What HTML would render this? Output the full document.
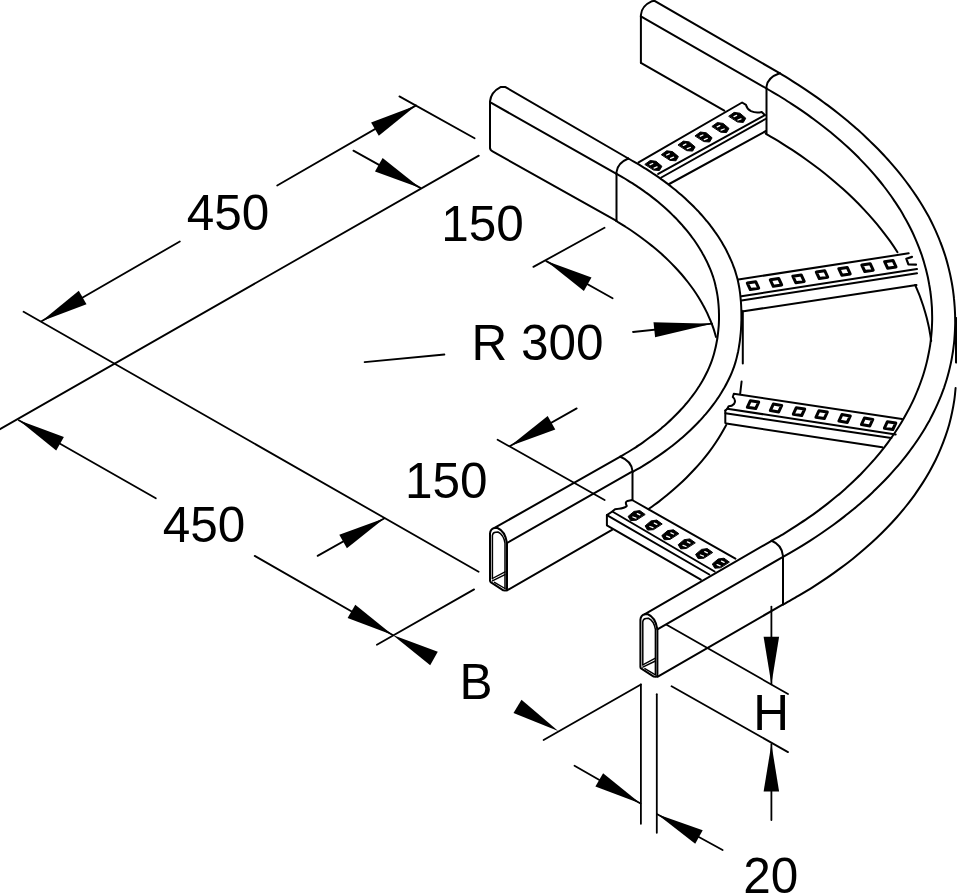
<!DOCTYPE html>
<html><head><meta charset="utf-8"><title>Cable ladder bend</title>
<style>
html,body{margin:0;padding:0;background:#fff;}
body{width:957px;height:895px;overflow:hidden;}
svg{display:block;font-family:"Liberation Sans",sans-serif;}
</style></head><body>
<svg width="957" height="895" viewBox="0 0 957 895" fill="none" stroke="#000" stroke-width="2.0" stroke-linecap="round" stroke-linejoin="round">
<rect x="0" y="0" width="957" height="895" fill="#fff" stroke="none"/>
<path d="M399.4 96.4 L474.6 138.2" stroke-width="1.8"/>
<path d="M416.1 105.4 L277.2 185.5" stroke-width="1.8"/>
<path d="M179.8 241.5 L41.5 321.3" stroke-width="1.8"/>
<polygon points="416.1,105.4 378.8,135.8 371.1,122.4" fill="#000" stroke="none"/>
<polygon points="41.5,321.3 78.8,290.8 86.5,304.3" fill="#000" stroke="none"/>
<path d="M23.6 311.8 L478.6 571.7" stroke-width="1.8"/>
<path d="M-1 429.7 L478.8 155.6" stroke-width="1.8"/>
<path d="M353.4 150.6 L420.3 187.9" stroke-width="1.8"/>
<polygon points="420.3,187.9 375,171.5 382.6,158" fill="#000" stroke="none"/>
<path d="M533.4 266.9 L604.5 227.8" stroke-width="1.8"/>
<path d="M546.3 261.1 L612.6 298.3" stroke-width="1.8"/>
<polygon points="546.3,261.1 591.5,277.6 583.9,291.1" fill="#000" stroke="none"/>
<path d="M364.6 362.1 L444.4 354.5" stroke-width="1.8"/>
<path d="M633 332 L712 323.7" stroke-width="1.8"/>
<polygon points="712,323.7 655.1,337.2 653.5,322.3" fill="#000" stroke="none"/>
<path d="M497.6 439.7 L604.6 500" stroke-width="1.8"/>
<path d="M576.7 408.4 L510.1 446" stroke-width="1.8"/>
<polygon points="510.1,446 547.7,415.9 555.3,429.4" fill="#000" stroke="none"/>
<path d="M317.6 555.9 L384.5 518.3" stroke-width="1.8"/>
<polygon points="384.5,518.3 346.9,548.3 339.3,534.8" fill="#000" stroke="none"/>
<path d="M18.8 420.2 L155.8 498.3" stroke-width="1.8"/>
<path d="M254.7 555.9 L392.7 635" stroke-width="1.8"/>
<polygon points="18.8,420.2 63.9,437 56.2,450.5" fill="#000" stroke="none"/>
<polygon points="392.7,635 347.6,618.1 355.3,604.7" fill="#000" stroke="none"/>
<polygon points="392.7,635 437.8,651.7 430.2,665.2" fill="#000" stroke="none"/>
<path d="M376.9 644.7 L474.1 589.4" stroke-width="1.8"/>
<polygon points="558.2,730.9 513.5,713.1 521.5,699.8" fill="#000" stroke="none"/>
<path d="M543.6 740 L640.9 684.5" stroke-width="1.8"/>
<path d="M640.9 684.5 L640.9 823.8" stroke-width="1.8"/>
<path d="M656.8 694.2 L656.8 832.8" stroke-width="1.8"/>
<path d="M574.5 765.7 L640.5 803.5" stroke-width="1.8"/>
<polygon points="640.5,803.5 595.4,786.6 603.1,773.2" fill="#000" stroke="none"/>
<path d="M657.3 814.2 L722.6 850" stroke-width="1.8"/>
<polygon points="657.3,814.2 702.7,830.2 695.2,843.8" fill="#000" stroke="none"/>
<path d="M771.4 606.6 L771.4 684.3" stroke-width="1.8"/>
<polygon points="771.4,684.3 763.6,636.8 779.1,636.8" fill="#000" stroke="none"/>
<path d="M771.4 744.1 L771.4 820" stroke-width="1.8"/>
<polygon points="771.4,744.1 779.1,791.6 763.6,791.6" fill="#000" stroke="none"/>
<path d="M666.6 624.8 L788 694" stroke-width="1.8"/>
<path d="M671.6 686.3 L788 752.1" stroke-width="1.8"/>
<text x="186.7" y="230" font-size="49.5" text-anchor="start" fill="#000" stroke="none">450</text>
<text x="441.2" y="241" font-size="49.5" text-anchor="start" fill="#000" stroke="none">150</text>
<text x="471.4" y="360" font-size="49.5" text-anchor="start" fill="#000" stroke="none">R 300</text>
<text x="404.9" y="498.3" font-size="49.5" text-anchor="start" fill="#000" stroke="none">150</text>
<text x="162.8" y="542.3" font-size="49.5" text-anchor="start" fill="#000" stroke="none">450</text>
<text x="459.5" y="698.8" font-size="49.5" text-anchor="start" fill="#000" stroke="none">B</text>
<text x="753.3" y="730.2" font-size="49.5" text-anchor="start" fill="#000" stroke="none">H</text>
<text x="743.2" y="893.3" font-size="49.5" text-anchor="start" fill="#000" stroke="none">20</text>
<path d="M490 147.8 L490 101.4 Q491 92 500.5 87.1 L505.5 87.1 L628.3 158.5"/>
<path d="M490 147.8 Q490 150.2 493 151.7 L616.5 220.8"/>
<path d="M490 102.2 L616.5 173.8"/>
<path d="M616.5 220.8 L616.5 172 Q617.5 163 628.3 158.5"/>
<path d="M628.3 158.5 C629.8 159.4 634.5 162 637.5 163.7 C640.4 165.5 643.3 167.2 646 168.9 C648.8 170.7 651.5 172.4 654 174.2 C656.6 175.9 659.1 177.6 661.5 179.4 C664 181.1 666.3 182.9 668.6 184.6 C670.8 186.3 673 188.1 675.2 189.8 C677.3 191.6 679.4 193.3 681.4 195.1 C683.3 196.8 685.3 198.5 687.1 200.3 C689 202 690.8 203.8 692.6 205.5 C694.3 207.2 696 209 697.7 210.7 C699.3 212.5 700.9 214.2 702.4 215.9 C704 217.7 705.4 219.4 706.9 221.2 C708.3 222.9 709.7 224.6 711 226.4 C712.3 228.1 713.6 229.9 714.8 231.6 C716.1 233.3 717.3 235.1 718.4 236.8 C719.5 238.6 720.6 240.3 721.7 242 C722.7 243.8 723.7 245.5 724.7 247.3 C725.7 249 726.6 250.7 727.4 252.5 C728.3 254.2 729.1 256 729.9 257.7 C730.7 259.5 731.5 261.2 732.2 262.9 C732.9 264.7 733.5 266.4 734.2 268.2 C734.8 269.9 735.4 271.6 735.9 273.4 C736.4 275.1 736.9 276.9 737.4 278.6 C737.8 280.3 738.2 282.1 738.5 283.8 C738.9 285.6 739.2 287.3 739.5 289 C739.7 290.8 740 292.5 740.2 294.3 C740.4 296 740.6 297.7 740.7 299.5 C740.9 301.2 741 303 741.1 304.7 C741.2 306.4 741.3 308.2 741.3 309.9 C741.4 311.7 741.4 313.4 741.4 315.1 C741.4 316.9 741.4 318.6 741.4 320.4 C741.3 322.1 741.3 323.9 741.2 325.6 C741.1 327.3 741 329.1 740.9 330.8 C740.8 332.6 740.6 334.3 740.4 336 C740.2 337.8 740.1 339.5 739.8 341.3 C739.6 343 739.3 344.7 739 346.5 C738.8 348.2 738.4 350 738.1 351.7 C737.7 353.4 737.3 355.2 736.9 356.9 C736.5 358.7 736 360.4 735.5 362.1 C735 363.9 734.4 365.6 733.8 367.4 C733.2 369.1 732.5 370.8 731.8 372.6 C731.1 374.3 730.3 376.1 729.5 377.8 C728.7 379.6 727.8 381.3 726.9 383 C726 384.8 725 386.5 724 388.3 C723 390 722 391.7 720.9 393.5 C719.8 395.2 718.7 397 717.5 398.7 C716.3 400.4 715.1 402.2 713.8 403.9 C712.5 405.7 711.2 407.4 709.8 409.1 C708.4 410.9 707 412.6 705.5 414.4 C704 416.1 702.4 417.8 700.8 419.6 C699.2 421.3 697.6 423.1 695.9 424.8 C694.2 426.5 692.4 428.3 690.6 430 C688.7 431.8 686.8 433.5 684.9 435.2 C682.9 437 680.9 438.7 678.8 440.5 C676.8 442.2 674.6 444 672.4 445.7 C670.2 447.4 667.9 449.2 665.5 450.9 C663.1 452.7 660.7 454.4 658.1 456.1 C655.6 457.9 653 459.6 650.3 461.4 C647.6 463.1 644.8 464.8 641.9 466.6 C639 468.3 634.4 470.9 632.9 471.8"/>
<path d="M616.5 173.8 C617.9 174.6 622 176.9 624.7 178.5 C627.3 180.1 629.8 181.7 632.3 183.2 C634.8 184.8 637.1 186.4 639.4 187.9 C641.7 189.5 644 191.1 646.1 192.7 C648.3 194.2 650.4 195.8 652.4 197.4 C654.4 198.9 656.4 200.5 658.3 202.1 C660.2 203.7 662 205.2 663.8 206.8 C665.6 208.4 667.3 209.9 669 211.5 C670.7 213.1 672.3 214.7 673.9 216.2 C675.4 217.8 677 219.4 678.4 221 C679.9 222.5 681.3 224.1 682.7 225.7 C684.1 227.2 685.4 228.8 686.7 230.4 C688 232 689.2 233.5 690.4 235.1 C691.6 236.7 692.8 238.2 693.9 239.8 C695 241.4 696.1 243 697.1 244.5 C698.1 246.1 699.1 247.7 700.1 249.2 C701 250.8 702 252.4 702.8 254 C703.7 255.5 704.6 257.1 705.4 258.7 C706.2 260.2 707 261.8 707.7 263.4 C708.4 265 709.1 266.5 709.8 268.1 C710.5 269.7 711.1 271.2 711.7 272.8 C712.2 274.4 712.8 276 713.3 277.5 C713.8 279.1 714.2 280.7 714.7 282.2 C715.1 283.8 715.5 285.4 715.8 287 C716.2 288.5 716.5 290.1 716.8 291.7 C717.1 293.2 717.3 294.8 717.6 296.4 C717.8 298 718 299.5 718.2 301.1 C718.3 302.7 718.5 304.2 718.6 305.8 C718.7 307.4 718.8 309 718.9 310.5 C718.9 312.1 719 313.7 719 315.2 C719 316.8 719 318.4 719 320 C718.9 321.5 718.9 323.1 718.8 324.7 C718.7 326.3 718.6 327.8 718.4 329.4 C718.3 331 718.1 332.5 717.9 334.1 C717.7 335.7 717.5 337.3 717.3 338.8 C717 340.4 716.7 342 716.4 343.5 C716.1 345.1 715.8 346.7 715.4 348.3 C715 349.8 714.6 351.4 714.2 353 C713.8 354.5 713.3 356.1 712.8 357.7 C712.3 359.3 711.8 360.8 711.2 362.4 C710.6 364 710 365.5 709.3 367.1 C708.6 368.7 707.9 370.3 707.2 371.8 C706.4 373.4 705.6 375 704.8 376.5 C704 378.1 703.1 379.7 702.2 381.3 C701.3 382.8 700.3 384.4 699.3 386 C698.3 387.5 697.3 389.1 696.2 390.7 C695.1 392.3 694 393.8 692.8 395.4 C691.6 397 690.4 398.5 689.2 400.1 C687.9 401.7 686.6 403.3 685.2 404.8 C683.9 406.4 682.5 408 681 409.5 C679.6 411.1 678.1 412.7 676.5 414.3 C675 415.8 673.4 417.4 671.7 419 C670.1 420.6 668.4 422.1 666.6 423.7 C664.9 425.3 663 426.8 661.2 428.4 C659.3 430 657.4 431.6 655.4 433.1 C653.4 434.7 651.3 436.3 649.2 437.8 C647.1 439.4 644.9 441 642.7 442.6 C640.4 444.1 638.1 445.7 635.7 447.3 C633.3 448.8 630.8 450.4 628.2 452 C625.7 453.6 621.6 455.9 620.3 456.7"/>
<path d="M616.2 221 C617.8 222 622.7 224.9 625.9 227 C629.1 229 632.2 231.1 635.2 233.2 C638.2 235.3 641.2 237.5 644.1 239.7 C647 241.8 649.8 244.1 652.5 246.3 C655.3 248.5 657.9 250.8 660.5 253.1 C663.1 255.4 665.6 257.7 668.1 260.1 C670.5 262.4 672.8 264.8 675.1 267.2 C677.4 269.6 679.6 272.1 681.7 274.5 C683.8 277 685.8 279.5 687.8 282 C689.7 284.5 691.6 287 693.4 289.5 C695.2 292.1 696.9 294.7 698.5 297.2 C700.1 299.8 701.6 302.4 703 305 C704.5 307.6 705.8 310.3 707.1 312.9 C708.3 315.6 709.5 318.2 710.6 320.9 C711.7 323.6 712.7 326.2 713.6 328.9 C714.5 331.6 715.6 335.7 716 337"/>
<path d="M648.6 509.1 C650.3 507.8 655.5 504.1 658.9 501.6 C662.2 499 665.5 496.4 668.6 493.8 C671.8 491.2 674.8 488.5 677.8 485.8 C680.8 483.1 683.7 480.4 686.4 477.7 C689.2 474.9 691.9 472.1 694.5 469.3 C697.1 466.5 699.6 463.6 702 460.8 C704.5 457.9 706.8 455 709 452.1 C711.2 449.2 713.3 446.2 715.3 443.2 C717.3 440.3 719.2 437.3 721 434.2 C722.8 431.2 725.3 426.7 726.2 425.1"/>
<path d="M742.8 311 L742.8 363.4"/>
<path d="M741.6 381.5 L740.2 393.5"/>
<path d="M620.3 456.7 Q631.5 461 632.5 471 L632.5 500"/>
<path d="M620.3 456.7 L494.5 527.9"/>
<path d="M632.5 471.3 L507 543"/>
<path d="M612 529.8 L507 590.4"/>
<path d="M490.0 580.6 L490.0 533.5 Q490.3 528.8 494.5 527.9 L497.5 528.0 Q505.0 531.0 507.0 543.0 L507.0 588.3 Q506.9 590.6 505.0 590.4 L503.3 590.3 L491.0 582.4 Q490.0 581.6 490.0 580.6 Z"/>
<path d="M492.4 578.8 L492.4 535.3 Q492.8 532.4 495.7 532.2 L498.0 532.0 Q503.5 534.5 505.0 543.0 L505.0 588.4" stroke-width="1.5"/>
<path d="M492.4 578.5 L505.0 571.9 M492.4 580.9 L505.0 574.7 M494.5 582.3 L505.0 588.5" stroke-width="1.4"/>
<path d="M640.9 62.8 L640.9 15 Q641.5 6 652 1.2 L654.5 0.8 L779.6 73.2"/>
<path d="M640.9 16.3 L766.5 88.5"/>
<path d="M640.9 62.8 L724.3 110.6"/>
<path d="M766.5 133.2 L766.5 86.5 Q767.5 77.5 779.6 73.2"/>
<path d="M779.6 73.2 C781.8 74.5 788.5 78.6 792.8 81.3 C797 83.9 801.1 86.6 805.2 89.3 C809.2 92 813.1 94.7 816.9 97.4 C820.7 100.1 824.3 102.8 827.9 105.4 C831.5 108.1 835 110.8 838.4 113.5 C841.8 116.2 845.1 118.9 848.3 121.6 C851.5 124.3 854.6 126.9 857.6 129.6 C860.6 132.3 863.5 135 866.4 137.7 C869.3 140.4 872 143.1 874.7 145.8 C877.4 148.4 880 151.1 882.5 153.8 C885.1 156.5 887.5 159.2 889.9 161.9 C892.3 164.6 894.6 167.3 896.8 169.9 C899.1 172.6 901.2 175.3 903.3 178 C905.4 180.7 907.4 183.4 909.4 186.1 C911.3 188.8 913.2 191.4 915 194.1 C916.9 196.8 918.6 199.5 920.3 202.2 C922 204.9 923.6 207.6 925.1 210.2 C926.7 212.9 928.1 215.6 929.6 218.3 C931 221 932.3 223.7 933.6 226.4 C934.9 229.1 936.1 231.7 937.2 234.4 C938.4 237.1 939.5 239.8 940.5 242.5 C941.6 245.2 942.6 247.9 943.5 250.6 C944.4 253.2 945.3 255.9 946.1 258.6 C946.9 261.3 947.6 264 948.3 266.7 C949 269.4 949.6 272.1 950.2 274.7 C950.8 277.4 951.3 280.1 951.8 282.8 C952.3 285.5 952.7 288.2 953.1 290.9 C953.4 293.6 953.8 296.2 954 298.9 C954.3 301.6 954.5 304.3 954.7 307 C954.9 309.7 955 312.4 955.1 315.1 C955.1 317.7 955.2 320.4 955.2 323.1 C955.1 325.8 955.1 328.5 954.9 331.2 C954.8 333.9 954.6 336.5 954.4 339.2 C954.2 341.9 953.9 344.6 953.5 347.3 C953.2 350 952.8 352.7 952.3 355.4 C951.9 358 951.4 360.7 950.8 363.4 C950.2 366.1 949.6 368.8 948.9 371.5 C948.2 374.2 947.5 376.9 946.7 379.5 C945.9 382.2 945 384.9 944.1 387.6 C943.1 390.3 942.1 393 941.1 395.7 C940 398.4 938.9 401 937.7 403.7 C936.5 406.4 935.3 409.1 933.9 411.8 C932.6 414.5 931.2 417.2 929.8 419.9 C928.3 422.5 926.8 425.2 925.2 427.9 C923.6 430.6 921.9 433.3 920.2 436 C918.5 438.7 916.7 441.3 914.8 444 C912.9 446.7 910.9 449.4 908.9 452.1 C906.9 454.8 904.8 457.5 902.6 460.2 C900.4 462.8 898.2 465.5 895.8 468.2 C893.5 470.9 891.1 473.6 888.6 476.3 C886.1 479 883.5 481.7 880.8 484.3 C878.1 487 875.4 489.7 872.5 492.4 C869.7 495.1 866.7 497.8 863.7 500.5 C860.6 503.2 857.5 505.8 854.3 508.5 C851 511.2 847.7 513.9 844.2 516.6 C840.8 519.3 837.2 522 833.5 524.7 C829.8 527.3 826 530 822.1 532.7 C818.2 535.4 814.1 538.1 809.9 540.8 C805.7 543.5 801.4 546.2 796.9 548.8 C792.4 551.5 785.3 555.6 783 556.9"/>
<path d="M766.5 88.5 C768.6 89.8 775.1 93.5 779.3 96 C783.4 98.6 787.4 101.1 791.2 103.6 C795.1 106.1 798.9 108.6 802.5 111.1 C806.1 113.6 809.7 116.1 813.1 118.7 C816.5 121.2 819.8 123.7 823 126.2 C826.2 128.7 829.4 131.2 832.4 133.7 C835.4 136.2 838.4 138.8 841.2 141.3 C844.1 143.8 846.8 146.3 849.5 148.8 C852.2 151.3 854.8 153.8 857.3 156.3 C859.8 158.9 862.3 161.4 864.6 163.9 C867 166.4 869.3 168.9 871.5 171.4 C873.7 173.9 875.9 176.4 878 179 C880.1 181.5 882.1 184 884 186.5 C886 189 887.8 191.5 889.6 194 C891.5 196.5 893.2 199.1 894.9 201.6 C896.6 204.1 898.2 206.6 899.8 209.1 C901.3 211.6 902.8 214.1 904.2 216.7 C905.7 219.2 907.1 221.7 908.4 224.2 C909.7 226.7 911 229.2 912.2 231.7 C913.4 234.2 914.5 236.8 915.6 239.3 C916.7 241.8 917.7 244.3 918.7 246.8 C919.7 249.3 920.6 251.8 921.5 254.3 C922.3 256.9 923.1 259.4 923.9 261.9 C924.6 264.4 925.3 266.9 926 269.4 C926.6 271.9 927.2 274.4 927.8 277 C928.3 279.5 928.8 282 929.2 284.5 C929.7 287 930.1 289.5 930.4 292 C930.8 294.5 931 297.1 931.3 299.6 C931.5 302.1 931.7 304.6 931.9 307.1 C932 309.6 932.1 312.1 932.1 314.6 C932.2 317.2 932.2 319.7 932.1 322.2 C932 324.7 931.9 327.2 931.8 329.7 C931.6 332.2 931.4 334.8 931.1 337.3 C930.9 339.8 930.5 342.3 930.2 344.8 C929.8 347.3 929.4 349.8 928.9 352.3 C928.4 354.9 927.9 357.4 927.3 359.9 C926.8 362.4 926.1 364.9 925.4 367.4 C924.7 369.9 924 372.4 923.2 375 C922.4 377.5 921.5 380 920.6 382.5 C919.7 385 918.8 387.5 917.7 390 C916.7 392.5 915.6 395.1 914.5 397.6 C913.4 400.1 912.2 402.6 910.9 405.1 C909.7 407.6 908.4 410.1 907 412.6 C905.6 415.2 904.2 417.7 902.7 420.2 C901.3 422.7 899.7 425.2 898.1 427.7 C896.5 430.2 894.8 432.8 893.1 435.3 C891.4 437.8 889.6 440.3 887.7 442.8 C885.9 445.3 883.9 447.8 881.9 450.3 C879.9 452.9 877.8 455.4 875.7 457.9 C873.6 460.4 871.3 462.9 869 465.4 C866.7 467.9 864.4 470.4 861.9 473 C859.5 475.5 856.9 478 854.3 480.5 C851.7 483 849 485.5 846.2 488 C843.4 490.5 840.5 493.1 837.5 495.6 C834.5 498.1 831.4 500.6 828.2 503.1 C825 505.6 821.8 508.1 818.4 510.6 C815 513.2 811.5 515.7 807.8 518.2 C804.2 520.7 800.4 523.2 796.6 525.7 C792.7 528.2 788.7 530.7 784.5 533.3 C780.3 535.8 773.8 539.5 771.6 540.8"/>
<path d="M765.7 133.6 C768.1 135.1 775.3 139.3 780 142.1 C784.6 145 789.2 148 793.7 150.9 C798.2 153.9 802.6 156.9 806.8 160 C811.1 163.1 815.3 166.2 819.4 169.3 C823.5 172.5 827.5 175.7 831.4 178.9 C835.3 182.2 839.1 185.4 842.8 188.8 C846.5 192.1 850 195.4 853.5 198.8 C857 202.2 860.4 205.7 863.6 209.1 C866.9 212.6 870.1 216.1 873.1 219.6 C876.2 223.1 879.1 226.7 881.9 230.3 C884.7 233.9 887.5 237.5 890.1 241.1 C892.7 244.8 896.3 250.3 897.5 252.2"/>
<path d="M915.2 285 C915.7 286.2 917.2 289.6 918.1 291.9 C919.1 294.2 920 296.5 920.8 298.8 C921.6 301.2 922.4 303.5 923.2 305.8 C923.9 308.1 924.6 310.5 925.3 312.8 C926 315.1 926.6 317.5 927.2 319.8 C927.7 322.2 928.3 324.5 928.8 326.9 C929.3 329.2 929.7 331.6 930.1 333.9 C930.5 336.3 931 339.8 931.2 341"/>
<path d="M955.6 388 C955.4 390 954.9 396.1 954.3 400.2 C953.7 404.2 953 408.3 952.1 412.3 C951.3 416.4 950.3 420.4 949.2 424.4 C948.1 428.4 946.8 432.4 945.4 436.4 C944 440.4 942.5 444.4 940.8 448.4 C939.2 452.3 937.4 456.3 935.5 460.2 C933.5 464.1 931.5 468 929.3 471.9 C927.1 475.7 924.8 479.6 922.4 483.4 C919.9 487.2 917.4 491 914.7 494.8 C912 498.6 909.1 502.3 906.2 506 C903.2 509.7 900.2 513.4 897 517 C893.8 520.6 890.5 524.2 887 527.8 C883.6 531.3 880 534.9 876.4 538.3 C872.7 541.8 868.9 545.2 865 548.6 C861.1 552 857.1 555.4 852.9 558.7 C848.8 562 844.6 565.2 840.2 568.4 C835.9 571.7 831.4 574.8 826.9 577.9 C822.3 581 817.6 584.1 812.9 587.1 C808.1 590.1 803.2 593 798.3 595.9 C793.3 598.8 785.6 603 783.1 604.5"/>
<path d="M956.1 318 L956.1 362.5" stroke-width="2.2"/>
<path d="M771.6 540.8 Q782 545 783 556 L783 604.4"/>
<path d="M771.6 540.8 L644.9 614.2"/>
<path d="M783 556.9 L657.4 629.3"/>
<path d="M783 604.4 L657.4 676.8"/>
<path d="M640.4 666.9 L640.4 619.8 Q640.7 615.1 644.9 614.2 L647.9 614.3 Q655.4 617.3 657.4 629.3 L657.4 674.6 Q657.3 676.9 655.4 676.7 L653.7 676.6 L641.4 668.7 Q640.4 667.9 640.4 666.9 Z"/>
<path d="M642.8 665.1 L642.8 621.6 Q643.2 618.7 646.1 618.5 L648.4 618.3 Q653.9 620.8 655.4 629.3 L655.4 674.7" stroke-width="1.5"/>
<path d="M642.8 664.8 L655.4 658.2 M642.8 667.2 L655.4 661.0 M644.9 668.6 L655.4 674.8" stroke-width="1.4"/>
<path d="M638.6 162.4 L742.1 102.5 L746 104.9 Q747 109 751 111.2 Q756 113.5 761.7 112 L764.8 115"/>
<path d="M658.2 173.9 L764.8 115.1"/>
<path d="M661.3 177.5 L765.5 119"/>
<path d="M669.2 184 L766 131"/>
<polygon points="645.1,164.2 650.2,160.5 656.0,161.3 661.9,166.3 659.4,170.5 653.9,170.1" fill="#000" stroke="#000" stroke-width="1" stroke-linejoin="round"/>
<path d="M650.1 164.7 l2.6 -1.2 M654.1 168.1 l3.0 -1.2" stroke="#fff" stroke-width="1.3"/>
<polygon points="661.6,154.5 666.7,150.8 672.5,151.6 678.4,156.6 675.9,160.8 670.4,160.4" fill="#000" stroke="#000" stroke-width="1" stroke-linejoin="round"/>
<path d="M666.6 155.0 l2.6 -1.2 M670.6 158.4 l3.0 -1.2" stroke="#fff" stroke-width="1.3"/>
<polygon points="678.3,144.8 683.4,141.1 689.2,141.9 695.1,146.9 692.6,151.1 687.1,150.7" fill="#000" stroke="#000" stroke-width="1" stroke-linejoin="round"/>
<path d="M683.3 145.3 l2.6 -1.2 M687.3 148.7 l3.0 -1.2" stroke="#fff" stroke-width="1.3"/>
<polygon points="695.3,135.7 700.4,132.0 706.2,132.8 712.1,137.8 709.6,142.0 704.1,141.6" fill="#000" stroke="#000" stroke-width="1" stroke-linejoin="round"/>
<path d="M700.3 136.2 l2.6 -1.2 M704.3 139.6 l3.0 -1.2" stroke="#fff" stroke-width="1.3"/>
<polygon points="712.2,126.3 717.3,122.6 723.1,123.4 729.0,128.4 726.5,132.6 721.0,132.2" fill="#000" stroke="#000" stroke-width="1" stroke-linejoin="round"/>
<path d="M717.2 126.8 l2.6 -1.2 M721.2 130.2 l3.0 -1.2" stroke="#fff" stroke-width="1.3"/>
<polygon points="729.0,116.1 734.1,112.4 739.9,113.2 745.8,118.2 743.3,122.4 737.8,122.0" fill="#000" stroke="#000" stroke-width="1" stroke-linejoin="round"/>
<path d="M734.0 116.6 l2.6 -1.2 M738.0 120.0 l3.0 -1.2" stroke="#fff" stroke-width="1.3"/>
<path d="M738.4 279.5 L908.7 253.3"/>
<path d="M741.5 296.2 L917 269.1"/>
<path d="M741.5 300.4 L917 273.3"/>
<path d="M743.6 311.2 L916.5 285.1"/>
<path d="M912 256.9 L906.3 258.7 L908.4 264.3 L916 264.7" stroke-width="2.2"/>
<polygon points="747.3,283.0 755.7,281.7 758.7,288.2 750.3,289.5" fill="#fff" stroke="#000" stroke-width="3" stroke-linejoin="round"/>
<polygon points="770.3,279.8 778.7,278.5 781.7,285.0 773.3,286.3" fill="#fff" stroke="#000" stroke-width="3" stroke-linejoin="round"/>
<polygon points="792.8,276.2 801.2,274.9 804.2,281.4 795.8,282.7" fill="#fff" stroke="#000" stroke-width="3" stroke-linejoin="round"/>
<polygon points="816.3,272.0 824.7,270.7 827.7,277.2 819.3,278.5" fill="#fff" stroke="#000" stroke-width="3" stroke-linejoin="round"/>
<polygon points="838.8,268.7 847.2,267.4 850.2,273.9 841.8,275.2" fill="#fff" stroke="#000" stroke-width="3" stroke-linejoin="round"/>
<polygon points="861.8,265.0 870.2,263.7 873.2,270.2 864.8,271.5" fill="#fff" stroke="#000" stroke-width="3" stroke-linejoin="round"/>
<polygon points="884.6,261.7 893.0,260.4 896.0,266.9 887.6,268.2" fill="#fff" stroke="#000" stroke-width="3" stroke-linejoin="round"/>
<path d="M902 418.9 L733.8 393.8 L732.8 397 Q736.5 400 734 404 Q732 406.3 728.6 406.3 L727.3 408.8 L725.4 410.5"/>
<path d="M727.3 408.8 L895.7 434.4"/>
<path d="M725.4 413.2 L891.3 438"/>
<path d="M725.3 410.5 L725.3 423"/>
<path d="M726.3 423.5 L882.2 447.2"/>
<polygon points="750.3,400.8 758.7,402.1 755.7,408.6 747.3,407.3" fill="#fff" stroke="#000" stroke-width="3" stroke-linejoin="round"/>
<polygon points="773.3,404.1 781.7,405.4 778.7,411.9 770.3,410.6" fill="#fff" stroke="#000" stroke-width="3" stroke-linejoin="round"/>
<polygon points="796.3,407.7 804.7,409.0 801.7,415.5 793.3,414.2" fill="#fff" stroke="#000" stroke-width="3" stroke-linejoin="round"/>
<polygon points="818.9,410.8 827.3,412.1 824.3,418.6 815.9,417.3" fill="#fff" stroke="#000" stroke-width="3" stroke-linejoin="round"/>
<polygon points="841.9,414.6 850.3,415.9 847.3,422.4 838.9,421.1" fill="#fff" stroke="#000" stroke-width="3" stroke-linejoin="round"/>
<polygon points="864.4,418.1 872.8,419.4 869.8,425.9 861.4,424.6" fill="#fff" stroke="#000" stroke-width="3" stroke-linejoin="round"/>
<polygon points="887.4,421.7 895.8,423.0 892.8,429.5 884.4,428.2" fill="#fff" stroke="#000" stroke-width="3" stroke-linejoin="round"/>
<path d="M735.4 558.6 L632.1 500 L627.6 500.9 Q624.5 502 626.8 505.9 Q625 508.5 615 509.2 L612.3 511.5 L606.9 515.1 L606.9 525.3"/>
<path d="M612.3 511.5 L714.6 571.5"/>
<path d="M606.9 515.1 L709.3 574.5"/>
<path d="M607.3 525.6 L700.8 579.7"/>
<polygon points="644.9,514.3 639.8,510.6 634.0,511.4 628.1,516.4 630.6,520.6 636.1,520.2" fill="#000" stroke="#000" stroke-width="1" stroke-linejoin="round"/>
<path d="M639.9 514.8 l-2.6 -1.2 M635.9 518.2 l-3.0 -1.2" stroke="#fff" stroke-width="1.3"/>
<polygon points="661.9,523.8 656.8,520.1 651.0,520.9 645.1,525.9 647.6,530.1 653.1,529.7" fill="#000" stroke="#000" stroke-width="1" stroke-linejoin="round"/>
<path d="M656.9 524.3 l-2.6 -1.2 M652.9 527.7 l-3.0 -1.2" stroke="#fff" stroke-width="1.3"/>
<polygon points="678.6,533.5 673.5,529.8 667.7,530.6 661.8,535.6 664.3,539.8 669.8,539.4" fill="#000" stroke="#000" stroke-width="1" stroke-linejoin="round"/>
<path d="M673.6 534.0 l-2.6 -1.2 M669.6 537.4 l-3.0 -1.2" stroke="#fff" stroke-width="1.3"/>
<polygon points="695.0,542.6 689.9,538.9 684.1,539.7 678.2,544.7 680.7,548.9 686.2,548.5" fill="#000" stroke="#000" stroke-width="1" stroke-linejoin="round"/>
<path d="M690.0 543.1 l-2.6 -1.2 M686.0 546.5 l-3.0 -1.2" stroke="#fff" stroke-width="1.3"/>
<polygon points="712.4,552.3 707.3,548.6 701.5,549.4 695.6,554.4 698.1,558.6 703.6,558.2" fill="#000" stroke="#000" stroke-width="1" stroke-linejoin="round"/>
<path d="M707.4 552.8 l-2.6 -1.2 M703.4 556.2 l-3.0 -1.2" stroke="#fff" stroke-width="1.3"/>
<polygon points="729.1,561.9 724.0,558.2 718.2,559.0 712.3,564.0 714.8,568.2 720.3,567.8" fill="#000" stroke="#000" stroke-width="1" stroke-linejoin="round"/>
<path d="M724.1 562.4 l-2.6 -1.2 M720.1 565.8 l-3.0 -1.2" stroke="#fff" stroke-width="1.3"/>
</svg>
</body></html>
